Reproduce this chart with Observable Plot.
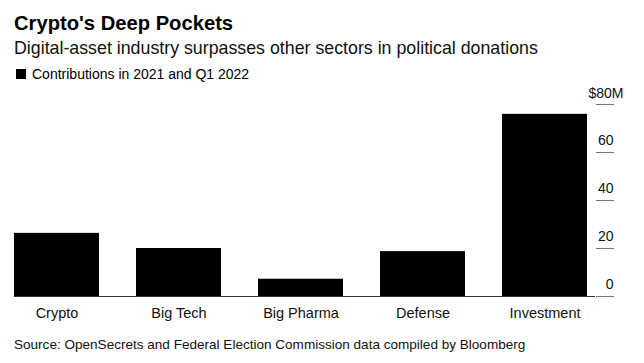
<!DOCTYPE html>
<html>
<head>
<meta charset="utf-8">
<script src="https://cdn.jsdelivr.net/npm/d3@7"></script>
<script src="https://cdn.jsdelivr.net/npm/@observablehq/plot@0.6"></script>
<style>
  html, body { margin: 0; padding: 0; background: #fff; }
  body { width: 644px; height: 363px; position: relative; overflow: hidden;
         font-family: "Liberation Sans", Arial, sans-serif; color: #000; }
  .t { position: absolute; left: 14px; white-space: nowrap; line-height: 1; }
  #title { top: 13px; font-size: 20.2px; font-weight: bold; }
  #subtitle { top: 40px; font-size: 17.8px; color: #111; }
  #legend { top: 66.5px; font-size: 14px; left: 15.5px; }
  #legend .sw { display: inline-block; width: 10.5px; height: 10.5px; background: #000; margin-right: 6px; vertical-align: -0.5px; }
  #caption { top: 337.5px; font-size: 13.55px; color: #111; }
  #chart { position: absolute; left: 0; top: 82px; }
</style>
</head>
<body>
<div class="t" id="title">Crypto's Deep Pockets</div>
<div class="t" id="subtitle">Digital-asset industry surpasses other sectors in political donations</div>
<div class="t" id="legend"><span class="sw"></span>Contributions in 2021 and Q1 2022</div>
<div id="chart"></div>
<div class="t" id="caption">Source: OpenSecrets and Federal Election Commission data compiled by Bloomberg</div>
<script>
const sectors = ["Crypto", "Big Tech", "Big Pharma", "Defense", "Investment"];
const contributions = [26.3, 20.0, 7.2, 18.7, 75.9]; // $ millions
const yTicks = [0, 20, 40, 60, 80];
const yTickLabels = ["0", "20", "40", "60", "$80M"];

const data = sectors.map((s, i) => ({sector: s, value: contributions[i]}));
const lowTicks = yTicks.slice(0, -1).map((v, i) => ({v, label: yTickLabels[i]}));
const topTick = [{v: yTicks[yTicks.length - 1], label: yTickLabels[yTickLabels.length - 1]}];

const chart = Plot.plot({
  width: 644,
  height: 244,
  marginTop: 22,
  marginBottom: 30,
  marginLeft: 14,
  marginRight: 49,
  style: {fontFamily: "'Liberation Sans', Arial, sans-serif", fontSize: "14px", color: "#000", background: "transparent"},
  x: {domain: sectors, range: [14, 587.5], paddingInner: 0.3, paddingOuter: 0, label: null},
  y: {domain: [0, 80], label: null},
  marks: [
    Plot.barY(data, {x: "sector", y: "value", fill: "#000"}),
    Plot.ruleY([0], {stroke: "#333", strokeWidth: 1}),
    Plot.axisY(yTicks, {anchor: "right", tickSize: 18, tickFormat: () => "", stroke: "#777", label: null}),
    Plot.text(lowTicks, {y: "v", text: "label", frameAnchor: "right", dx: 18, dy: -12, textAnchor: "end", fill: "#111", fontSize: 14}),
    Plot.text(topTick, {y: "v", text: "label", frameAnchor: "right", dx: -7, dy: -11, textAnchor: "start", fill: "#111", fontSize: 14}),
    Plot.axisX({tickSize: 0, tickPadding: 11, label: null, fill: "#111", fontSize: 14.5})
  ]
});
document.getElementById("chart").appendChild(chart);
</script>
</body>
</html>
